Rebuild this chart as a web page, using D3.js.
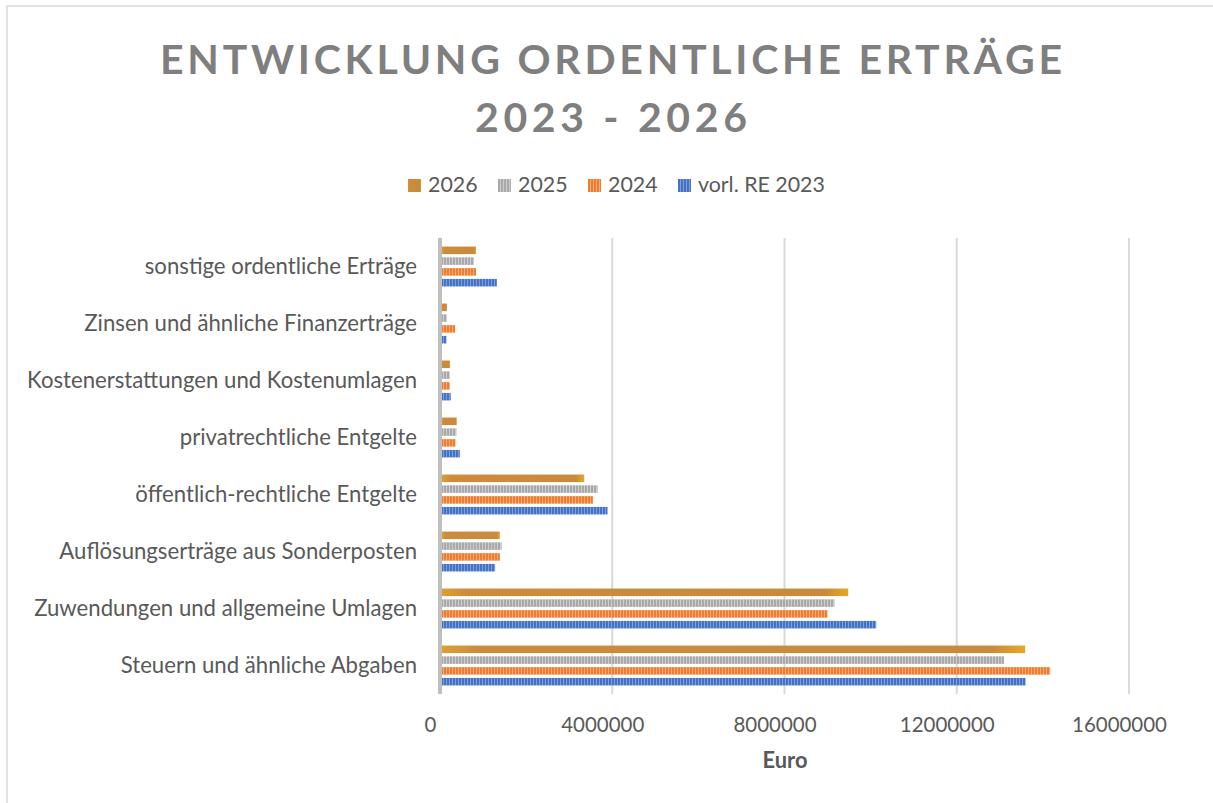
<!DOCTYPE html>
<html><head><meta charset="utf-8">
<script src="https://cdn.jsdelivr.net/npm/d3@7"></script>
<style>
html,body{margin:0;padding:0;background:#fff;}
svg{display:block;}
text{font-family:Lato,"Open Sans","Liberation Sans",sans-serif;}
</style></head>
<body>
<svg id="chart" width="1213" height="803"></svg>
<script>
const categories = [
  "sonstige ordentliche Erträge",
  "Zinsen und ähnliche Finanzerträge",
  "Kostenerstattungen und Kostenumlagen",
  "privatrechtliche Entgelte",
  "öffentlich-rechtliche Entgelte",
  "Auflösungserträge aus Sonderposten",
  "Zuwendungen und allgemeine Umlagen",
  "Steuern und ähnliche Abgaben"
];
const seriesNames = ["2026", "2025", "2024", "vorl. RE 2023"];
const values2026 = [836000, 160000, 230000, 390000, 3350000, 1390000, 9480000, 13590000];
const values2025 = [790000, 160000, 230000, 380000, 3660000, 1430000, 9160000, 13100000];
const values2024 = [836000, 350000, 230000, 360000, 3550000, 1390000, 9000000, 14170000];
const values2023 = [1320000, 150000, 250000, 460000, 3890000, 1280000, 10130000, 13600000];
const xTicks = [0, 4000000, 8000000, 12000000, 16000000];
const titleLines = ["ENTWICKLUNG ORDENTLICHE ERTRÄGE", "2023 - 2026"];
const xAxisTitle = "Euro";

const seriesValues = [values2026, values2025, values2024, values2023];
const svg = d3.select("#chart");

// border
svg.append("rect").attr("x", 7).attr("y", 6).attr("width", 1220).attr("height", 820)
  .attr("fill", "#fff").attr("stroke", "#d9d9d9").attr("stroke-width", 1.5);

// defs: patterns
const defs = svg.append("defs");
const g26 = defs.append("linearGradient").attr("id", "grad2026").attr("x1", "0").attr("x2", "1").attr("y1", "0").attr("y2", "0");
[["0%", "#dca031"], ["6%", "#cd8c3c"], ["94%", "#c98a3c"], ["100%", "#e6a822"]].forEach(s =>
  g26.append("stop").attr("offset", s[0]).attr("stop-color", s[1]));
function stripe(id, base, light) {
  const p = defs.append("pattern").attr("id", id).attr("patternUnits", "userSpaceOnUse")
    .attr("width", 3).attr("height", 10);
  p.append("rect").attr("width", 3).attr("height", 10).attr("fill", base);
  p.append("rect").attr("x", 2).attr("width", 1).attr("height", 10).attr("fill", light);
}
stripe("pat2025", "#a9a9a9", "#cdcdcd");
stripe("pat2024", "#ee7d31", "#f6ab78");
stripe("pat2023", "#4472c4", "#7d9fdc");
const fills = ["url(#grad2026)", "url(#pat2025)", "url(#pat2024)", "url(#pat2023)"];
const legendFills = ["url(#grad2026)", "url(#pat2025)", "url(#pat2024)", "url(#pat2023)"];

// title
titleLines.forEach((t, i) => {
  const w = i === 0 ? 902 : 272;
  svg.append("text").attr("x", 611).attr("y", i === 0 ? 74 : 132)
    .attr("text-anchor", "middle").attr("font-size", 41).attr("font-weight", "bold")
    .attr("fill", "#7f7f7f").attr("textLength", w).attr("lengthAdjust", "spacing").text(t);
});

// scales
const x = d3.scaleLinear().domain([0, 16000000]).range([440, 1129]);
const y0 = d3.scaleBand().domain(categories).range([238, 694]).paddingInner(0.3).paddingOuter(0.15);
const y1 = d3.scaleBand().domain(seriesNames).range([0, y0.bandwidth()]).paddingInner(0.3);

// gridlines
svg.append("g").selectAll("line").data(xTicks.slice(1)).join("line")
  .attr("x1", d => x(d)).attr("x2", d => x(d)).attr("y1", 238).attr("y2", 694)
  .attr("stroke", "#d9d9d9").attr("stroke-width", 2);

// bars
const rows = categories.map((c, i) => ({ c, vals: seriesValues.map((s, k) => ({ k, name: seriesNames[k], v: s[i] })) }));
const grp = svg.append("g").selectAll("g").data(rows).join("g")
  .attr("transform", d => `translate(0,${y0(d.c)})`);
grp.selectAll("rect").data(d => d.vals).join("rect")
  .attr("x", x(0) + 2).attr("y", d => y1(d.name))
  .attr("width", d => Math.max(0, x(d.v) - x(0) - 2)).attr("height", y1.bandwidth())
  .attr("fill", d => fills[d.k]);

// zero axis line
svg.append("line").attr("x1", x(0)).attr("x2", x(0)).attr("y1", 238).attr("y2", 694)
  .attr("stroke", "#bfbfbf").attr("stroke-width", 4);

// fit helper
function fitSize(txt, target, weight) {
  const t = svg.append("text").attr("font-size", 100).attr("font-weight", weight || "normal").text(txt);
  const w = t.node().getComputedTextLength();
  t.remove();
  return 100 * target / w;
}

// category labels
const catSize = fitSize("Kostenerstattungen und Kostenumlagen", 390);
svg.append("g").selectAll("text").data(categories).join("text")
  .attr("x", 417).attr("y", d => y0(d) + y0.bandwidth() / 2).attr("dy", "0.35em")
  .attr("text-anchor", "end").attr("font-size", catSize).attr("fill", "#595959").text(d => d);

// x axis tick labels
const tickSize = fitSize("16000000", 95);
const xAxis = d3.axisBottom(x).tickValues(xTicks).tickSize(0).tickPadding(0).tickFormat(d3.format("d"));
const axG = svg.append("g").attr("transform", "translate(-10,725)").call(xAxis);
axG.select(".domain").remove();
axG.selectAll("text").attr("font-size", tickSize).attr("fill", "#595959")
  .attr("font-family", "Lato, 'Open Sans', sans-serif").attr("dy", "0.35em").attr("y", 0);

// axis title
svg.append("text").attr("x", 785).attr("y", 768).attr("text-anchor", "middle")
  .attr("font-size", fitSize("Euro", 45, "bold")).attr("font-weight", "bold").attr("fill", "#595959").text(xAxisTitle);

// legend
const legSize = fitSize("vorl. RE 2023", 127);
const legX = [408, 498, 588, 678];
const leg = svg.append("g").selectAll("g").data(seriesNames).join("g")
  .attr("transform", (d, i) => `translate(${legX[i]},185)`);
leg.append("rect").attr("x", 0).attr("y", -6).attr("width", 13).attr("height", 13)
  .attr("fill", (d, i) => legendFills[i]);
leg.append("text").attr("x", 20).attr("y", 0).attr("dy", "0.35em").attr("font-size", legSize)
  .attr("fill", "#595959").text(d => d);
</script>
</body></html>
